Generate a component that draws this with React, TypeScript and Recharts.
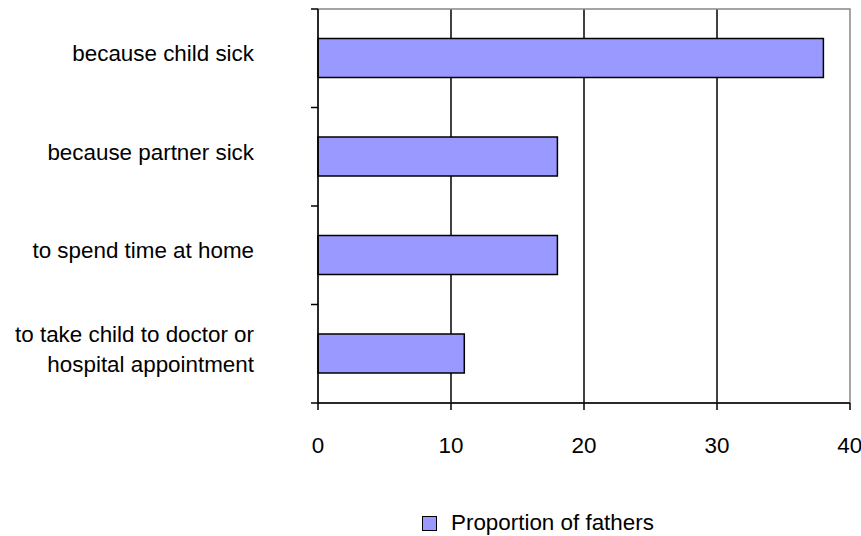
import { Bar, BarChart, CartesianGrid, Legend, ReferenceArea, XAxis, YAxis } from "recharts";

const reasons = [
  "because child sick",
  "because partner sick",
  "to spend time at home",
  "to take child to doctor or hospital appointment",
];
const reasonLines = [
  ["because child sick"],
  ["because partner sick"],
  ["to spend time at home"],
  ["to take child to doctor or", "hospital appointment"],
];
const proportions = [38, 18, 18, 11];
const xTicks = [0, 10, 20, 30, 40];
const gridValues = [10, 20, 30];

const data = reasons.map((reason, i) => ({ reason, fathers: proportions[i] }));

const FONT = "'Liberation Sans', Arial, sans-serif";
const FS = 22.4;
const TICK = 7;
const LABEL_GAP = 57;

// category label plus Excel-style tick marks at the band edges
function ReasonTick({ x, y, index, height }: any) {
  const lines = reasonLines[index] ?? [];
  const lineHeight = 30;
  const start = -5 - ((lines.length - 1) * lineHeight) / 2;
  const band = height / reasons.length;
  const axisX = x + TICK + LABEL_GAP;
  return (
    <g>
      <line x1={axisX - TICK} x2={axisX} y1={y - band / 2} y2={y - band / 2} stroke="#000" strokeWidth={1.5} />
      {index === reasons.length - 1 && (
        <line x1={axisX - TICK} x2={axisX} y1={y + band / 2} y2={y + band / 2} stroke="#000" strokeWidth={1.5} />
      )}
      <text x={x} y={y} textAnchor="end" fill="#000" fontSize={FS} fontFamily={FONT}>
        {lines.map((line, i) => (
          <tspan key={i} x={x} y={y + start + i * lineHeight} dy="0.35em">
            {line}
          </tspan>
        ))}
      </text>
    </g>
  );
}

function LegendBox() {
  return (
    <div
      style={{
        display: "flex",
        justifyContent: "flex-start",
        alignItems: "center",
        height: 26,
        fontFamily: FONT,
        fontSize: FS,
        color: "#000",
        paddingLeft: 414,
      }}
    >
      <span
        style={{
          width: 13,
          height: 13,
          background: "#9999ff",
          border: "1.5px solid #000",
          marginRight: 14,
        }}
      />
      Proportion of fathers
    </div>
  );
}

export default function App() {
  return (
    <div style={{ position: "absolute", left: 0, top: 0, background: "#fff" }}>
      <BarChart
        width={861}
        height={536}
        data={data}
        layout="vertical"
        margin={{ top: 9, right: 11, left: 8, bottom: 0 }}
        barCategoryGap="30%"
      >
        <CartesianGrid horizontal={false} verticalValues={gridValues} stroke="#000" strokeWidth={1.5} />
        <ReferenceArea x1={0} x2={40} fill="none" stroke="#888" strokeWidth={1.5} ifOverflow="visible" />
        <XAxis
          type="number"
          domain={[0, 40]}
          ticks={xTicks}
          stroke="#000"
          strokeWidth={1.5}
          tickSize={7}
          tickMargin={27}
          height={107}
          tick={{ fill: "#000", fontSize: FS, fontFamily: FONT }}
        />
        <YAxis
          type="category"
          dataKey="reason"
          width={310}
          stroke="#000"
          strokeWidth={1.5}
          tickLine={false}
          tickSize={TICK}
          tickMargin={LABEL_GAP}
          tick={<ReasonTick />}
        />
        <Legend verticalAlign="bottom" content={<LegendBox />} />
        <Bar dataKey="fathers" fill="#9999ff" stroke="#000" strokeWidth={1.5} isAnimationActive={false} />
      </BarChart>
    </div>
  );
}
